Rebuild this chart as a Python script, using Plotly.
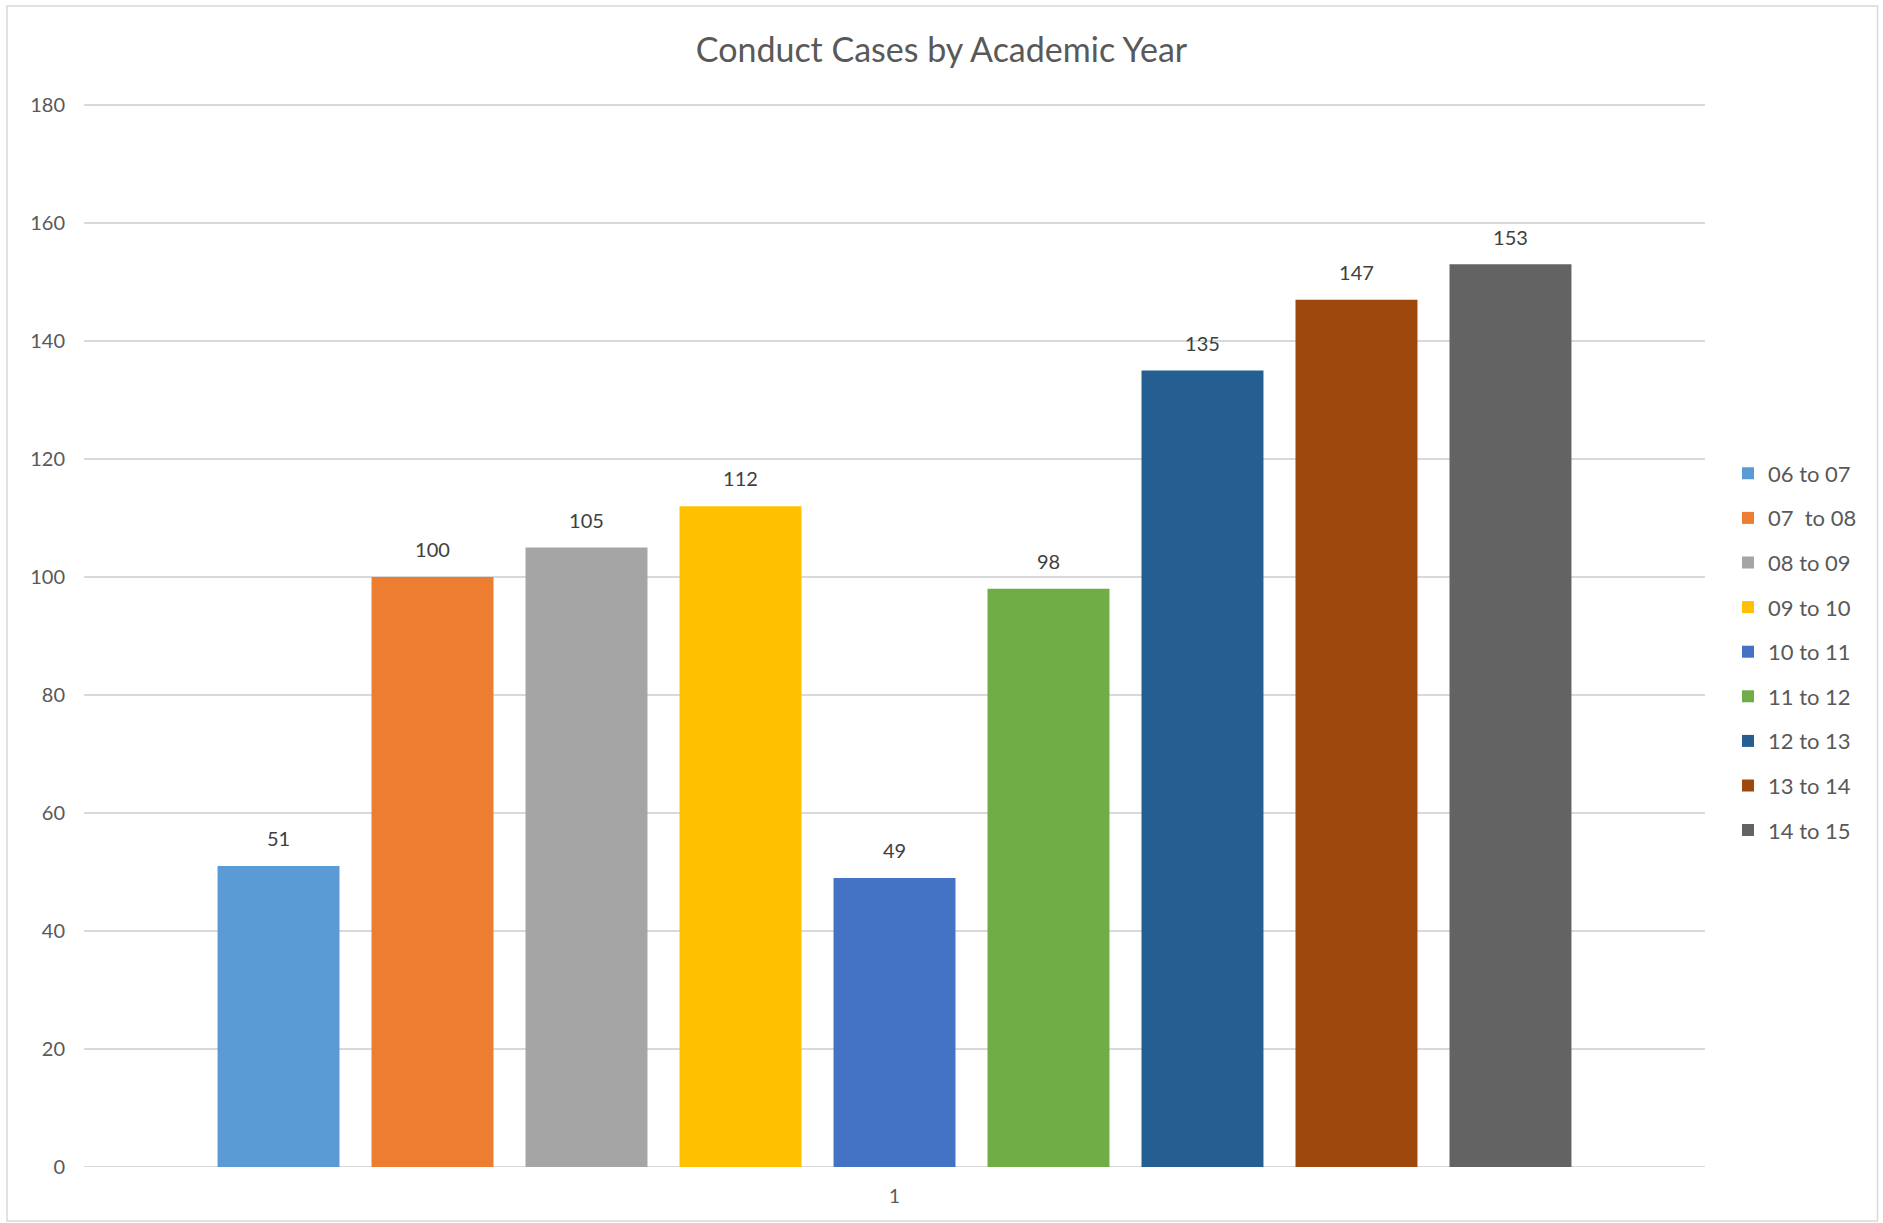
import plotly.graph_objects as go

categories = ["1"]
series_names = ["06 to 07", "07\u00a0 to 08", "08 to 09", "09 to 10", "10 to 11",
                "11 to 12", "12 to 13", "13 to 14", "14 to 15"]
series_values = [51, 100, 105, 112, 49, 98, 135, 147, 153]
series_colors = ["#5B9BD5", "#ED7D31", "#A5A5A5", "#FFC000", "#4472C4",
                 "#70AD47", "#255E91", "#9E480E", "#636363"]
y_ticks = [0, 20, 40, 60, 80, 100, 120, 140, 160, 180]

FONT = "Lato"
W, H = 1883, 1223
Y_TOP = 180.5
L, R, B = 84, 1705, 1167
T = round(B - Y_TOP * (B - 105) / 180)
GAP = 0.145

fig = go.Figure()
for i, (name, val, col) in enumerate(zip(series_names, series_values, series_colors)):
    fig.add_trace(go.Bar(
        x=categories, y=[val], name=name, marker=dict(color=col, line=dict(width=0)),
        legendgroup=f"g{i}", hoverinfo="name+y",
    ))
# data labels, placed over each bar through the grouped scatter layout
for i, (name, val) in enumerate(zip(series_names, series_values)):
    fig.add_trace(go.Scatter(
        x=categories, y=[val], mode="markers+text", text=[str(val)],
        textposition="top center", cliponaxis=False,
        marker=dict(size=22, color="rgba(0,0,0,0)"),
        textfont=dict(family=FONT, size=20, color="#404040"),
        showlegend=False, hoverinfo="skip", legendgroup=f"g{i}",
    ))

pw = R - L
ph = B - T


def px_x(p):
    return (p - L) / pw


def px_y(p):
    return (B - p) / ph


fig.update_layout(
    width=W, height=H,
    margin=dict(l=L, r=W - R, t=T, b=H - B, pad=0),
    paper_bgcolor="white", plot_bgcolor="white",
    barmode="group", bargap=GAP, bargroupgap=0.208,
    scattermode="group", scattergap=GAP,
    font=dict(family=FONT, color="#595959"),
    title=dict(text="Conduct Cases by Academic Year", x=0.5, xanchor="center",
               y=1 - 50 / H, yanchor="middle",
               font=dict(family=FONT, size=34, color="#595959")),
    xaxis=dict(type="category", range=[-0.5, 0.5], showgrid=False,
               showline=False, zeroline=False, ticks="",
               tickfont=dict(family=FONT, size=19, color="#595959"),
               ticklabelstandoff=16),
    yaxis=dict(range=[0, Y_TOP], tickvals=y_ticks, showgrid=True,
               gridcolor="#D9D9D9", gridwidth=1.5, zeroline=False,
               showline=False, ticks="",
               tickfont=dict(family=FONT, size=20, color="#595959"),
               ticklabelstandoff=18),
    legend=dict(x=px_x(1728), xanchor="left", y=px_y(652), yanchor="middle",
                font=dict(family=FONT, size=22, color="#595959"),
                tracegroupgap=13, bgcolor="rgba(0,0,0,0)", traceorder="grouped"),
    showlegend=True,
)

# zero baseline
fig.add_shape(type="line", xref="paper", yref="y", x0=0, x1=1, y0=0, y1=0,
              line=dict(color="#D9D9D9", width=2), layer="below")
# chart frame
fig.add_shape(type="rect", xref="paper", yref="paper",
              x0=px_x(7), x1=px_x(1877.5), y0=px_y(1221), y1=px_y(6),
              line=dict(color="#D9D9D9", width=1.5), layer="below")

fig.write_html("out.html")
